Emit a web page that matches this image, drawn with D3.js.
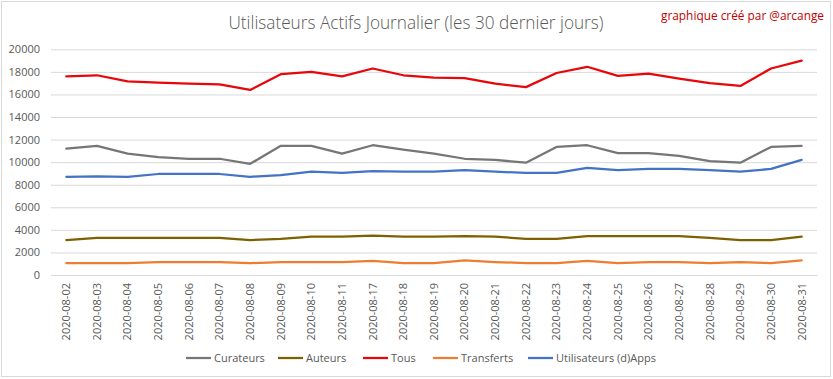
<!DOCTYPE html>
<html><head><meta charset="utf-8">
<script src="https://cdn.jsdelivr.net/npm/d3@7"></script>
<style>body{margin:0;background:#fff;}svg{display:block;font-family:"Open Sans",sans-serif;}</style>
</head><body><svg id="c" width="833" height="379"></svg>
<script>
const dates = ["2020-08-02","2020-08-03","2020-08-04","2020-08-05","2020-08-06","2020-08-07","2020-08-08","2020-08-09","2020-08-10","2020-08-11","2020-08-17","2020-08-18","2020-08-19","2020-08-20","2020-08-21","2020-08-22","2020-08-23","2020-08-24","2020-08-25","2020-08-26","2020-08-27","2020-08-28","2020-08-29","2020-08-30","2020-08-31"];
const curateurs = [11200,11450,10750,10450,10300,10300,9850,11450,11450,10750,11500,11100,10750,10300,10200,9950,11350,11500,10800,10800,10550,10100,9950,11350,11450];
const auteurs = [3100,3300,3300,3300,3300,3300,3100,3200,3400,3400,3500,3400,3400,3450,3400,3200,3200,3450,3450,3450,3450,3300,3100,3100,3400];
const tous = [17600,17700,17150,17050,16950,16900,16400,17800,18000,17600,18300,17700,17500,17450,16950,16650,17900,18450,17650,17850,17400,17000,16750,18300,19000];
const transferts = [1050,1050,1050,1150,1150,1150,1050,1150,1150,1150,1250,1050,1050,1300,1150,1050,1050,1250,1050,1150,1150,1050,1150,1050,1300];
const apps = [8700,8750,8700,8950,8950,8950,8700,8850,9150,9050,9200,9150,9150,9300,9150,9050,9050,9500,9300,9400,9400,9300,9150,9400,10200];
const yTicks = [0,2000,4000,6000,8000,10000,12000,14000,16000,18000,20000];
const seriesNames = ["Curateurs","Auteurs","Tous","Transferts","Utilisateurs (d)Apps"];
const seriesColors = ["#767676","#7f6000","#e8060a","#ed7d31","#4472c4"];
const seriesData = [curateurs,auteurs,tous,transferts,apps];

const svg = d3.select("#c");
svg.append("rect").attr("x",1.5).attr("y",1.5).attr("width",829).attr("height",375)
  .attr("fill","#fff").attr("stroke","#d9d9d9").attr("stroke-width",1);

const x = d3.scaleBand().domain(dates).range([51,817]);
const y = d3.scaleLinear().domain([0,20000]).range([275,49.3]);

// grid
const yAxis = d3.axisLeft(y).tickValues(yTicks).tickSize(-(817-51)).tickFormat(d=>d);
const gy = svg.append("g").attr("transform","translate(51,0)").call(yAxis);
gy.select(".domain").remove();
gy.selectAll(".tick line").attr("stroke","#d9d9d9").attr("stroke-width",1);
gy.selectAll(".tick text").attr("x",-11).attr("fill","#595959").style("font-size","11px").style("font-family","'Open Sans',sans-serif");

const xAxis = d3.axisBottom(x).tickSize(0);
const gx = svg.append("g").attr("transform","translate(0,275)").call(xAxis);
gx.select(".domain").attr("stroke","#d9d9d9");
gx.selectAll(".tick text").attr("transform","rotate(-90)").attr("text-anchor","end")
  .attr("x",-8).attr("y",0).attr("dy","0.35em")
  .attr("fill","#595959").style("font-size","11px").style("font-family","'Open Sans',sans-serif");

const line = d3.line().x((d,i)=>x(dates[i])+x.bandwidth()/2).y(d=>y(d));
seriesData.forEach((s,k)=>{
  svg.append("path").datum(s).attr("d",line).attr("fill","none")
    .attr("stroke",seriesColors[k]).attr("stroke-width",2.25).attr("stroke-linejoin","round").attr("stroke-linecap","round");
});

// title
svg.append("text").attr("x",416).attr("y",29).attr("text-anchor","middle")
  .attr("fill","#595959").style("font-size","18px").style("font-weight","300")
  .attr("textLength",375).attr("lengthAdjust","spacingAndGlyphs")
  .text("Utilisateurs Actifs Journalier (les 30 dernier jours)");
svg.append("text").attr("x",824).attr("y",20).attr("text-anchor","end")
  .attr("fill","#c00000").style("font-size","12px")
  .attr("textLength",163).attr("lengthAdjust","spacingAndGlyphs")
  .text("graphique créé par @arcange");

// legend
const legX = [186,278,363,433,528];
seriesNames.forEach((n,k)=>{
  const g = svg.append("g").attr("transform",`translate(${legX[k]},358)`);
  g.append("line").attr("x1",0).attr("x2",25).attr("y1",0).attr("y2",0)
    .attr("stroke",seriesColors[k]).attr("stroke-width",2.25);
  g.append("text").attr("x",28).attr("y",0).attr("dy","0.35em").attr("fill","#595959")
    .style("font-size","11px").text(n);
});
</script></body></html>
